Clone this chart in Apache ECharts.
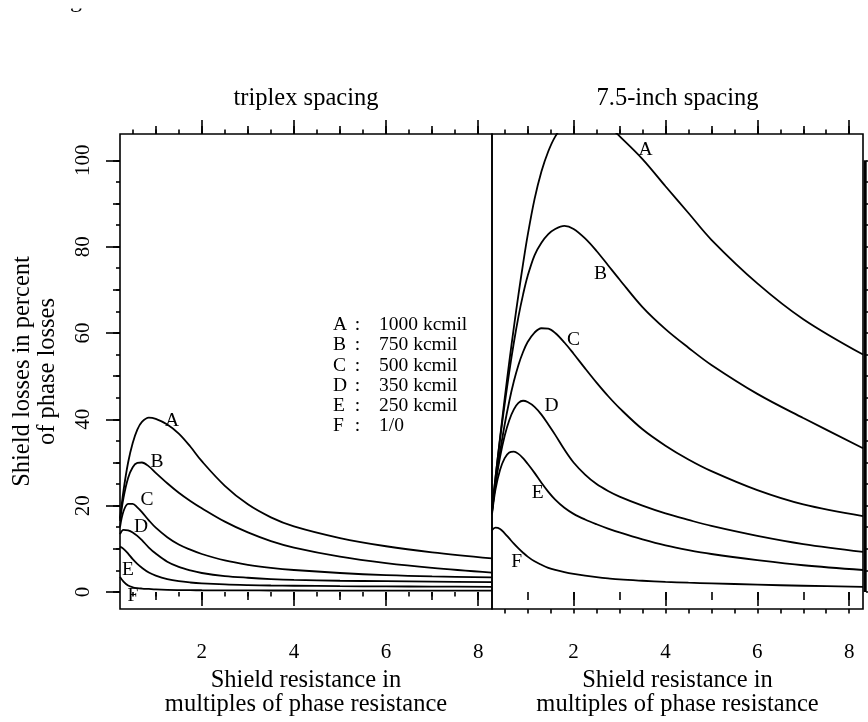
<!DOCTYPE html>
<html>
<head>
<meta charset="utf-8">
<script src="https://cdn.jsdelivr.net/npm/echarts@6/dist/echarts.min.js"></script>
<style>
  html, body { margin: 0; padding: 0; background: #fff; }
  #chart { width: 868px; height: 722px; }
</style>
</head>
<body>
<div id="chart"></div>
<script>
const FONT = '"Liberation Serif", "Times New Roman", Times, serif';

// Conductor sizes keyed by curve letter
const curveKeys = ['A', 'B', 'C', 'D', 'E', 'F'];
const sizeNames = ['1000 kcmil', '750 kcmil', '500 kcmil', '350 kcmil', '250 kcmil', '1/0'];

// Panel titles
const panelTitles = ['triplex spacing', '7.5-inch spacing'];

// Tick values
const xTickLabels = [2, 4, 6, 8];
const xTicksInt = [1, 2, 3, 4, 5, 6, 7, 8];
const xTicksHalf = [0.5, 1, 1.5, 2, 2.5, 3, 3.5, 4, 4.5, 5, 5.5, 6, 6.5, 7, 7.5, 8];
const yTickLabels = [0, 20, 40, 60, 80, 100];
const yTicks10 = [0, 10, 20, 30, 40, 50, 60, 70, 80, 90, 100];
const yTicks5 = [0, 5, 10, 15, 20, 25, 30, 35, 40, 45, 50, 55, 60, 65, 70, 75, 80, 85, 90, 95, 100];

// Triplex spacing: shield resistance (x) and shield losses in % of phase losses
const xTriplex = [0.224, 0.3, 0.4, 0.5, 0.6, 0.7, 0.85, 1.0, 1.25, 1.5, 1.75, 2.0, 2.5, 3.0, 3.5, 4.0, 5.0, 6.0, 7.0, 8.3];
const triplexA = [17.0, 23.5, 30.0, 34.5, 37.6, 39.4, 40.4, 40.1, 38.8, 36.7, 33.7, 30.3, 24.6, 20.3, 17.3, 15.2, 12.5, 10.6, 9.2, 7.8];
const triplexB = [16.5, 21.8, 26.4, 28.9, 29.9, 30.0, 29.1, 27.6, 25.2, 23.0, 21.1, 19.4, 16.3, 13.8, 11.8, 10.3, 8.2, 6.7, 5.6, 4.5];
const triplexC = [15.0, 18.7, 20.4, 20.4, 19.6, 18.5, 16.6, 14.9, 12.7, 11.0, 9.8, 8.8, 7.3, 6.3, 5.6, 5.1, 4.4, 3.9, 3.6, 3.4];
const triplexD = [13.4, 14.4, 14.3, 13.8, 13.0, 12.0, 10.3, 8.9, 7.0, 5.8, 5.0, 4.4, 3.7, 3.3, 3.0, 2.8, 2.6, 2.5, 2.4, 2.3];
const triplexE = [10.5, 10.0, 8.9, 7.6, 6.5, 5.6, 4.5, 3.8, 3.0, 2.5, 2.2, 2.0, 1.75, 1.6, 1.5, 1.45, 1.35, 1.3, 1.25, 1.2];
const triplexF = [3.5, 2.4, 1.5, 1.1, 0.9, 0.8, 0.7, 0.6, 0.5, 0.45, 0.42, 0.4, 0.38, 0.36, 0.35, 0.34, 0.32, 0.31, 0.3, 0.3];

// 7.5-inch spacing
const xSpaced = [0.224, 0.3, 0.4, 0.5, 0.6, 0.7, 0.8, 0.9, 1.0, 1.15, 1.3, 1.45, 1.6, 1.8, 2.0, 2.25, 2.5, 2.75, 3.0, 3.5, 4.0, 4.5, 5.0, 6.0, 7.0, 8.3];
const spacedA = [19.0, 26.5, 35.8, 44.8, 53.3, 61.3, 68.9, 76.0, 82.6, 91.0, 97.4, 102.1, 105.5, 108.3, 109.7, 110.2, 109.6, 108.0, 105.6, 100.3, 94.0, 87.8, 81.6, 71.5, 63.2, 55.0];
const spacedB = [19.0, 26.5, 35.5, 43.5, 51.0, 57.8, 63.8, 68.9, 73.2, 78.0, 80.9, 82.9, 84.1, 84.8, 84.1, 81.9, 79.0, 75.7, 72.4, 66.0, 60.9, 56.6, 52.6, 45.9, 40.3, 33.3];
const spacedC = [18.5, 25.3, 32.5, 38.8, 44.2, 48.8, 52.6, 55.6, 57.9, 60.1, 61.1, 61.0, 60.0, 57.8, 55.2, 51.8, 48.5, 45.4, 42.6, 37.7, 33.9, 30.7, 28.0, 23.6, 20.3, 17.6];
const spacedD = [18.5, 25.0, 31.3, 36.2, 39.8, 42.3, 43.8, 44.3, 44.0, 42.9, 41.1, 38.8, 36.4, 33.0, 30.0, 27.2, 25.0, 23.4, 22.1, 20.0, 18.2, 16.7, 15.3, 13.0, 11.1, 9.3];
const spacedE = [18.0, 23.8, 28.3, 31.0, 32.3, 32.5, 32.0, 31.0, 29.7, 27.6, 25.3, 23.2, 21.4, 19.5, 18.1, 16.8, 15.7, 14.7, 13.8, 12.2, 10.8, 9.7, 8.8, 7.4, 6.2, 5.1];
const spacedF = [14.3, 14.9, 14.6, 13.6, 12.4, 11.2, 10.1, 9.1, 8.2, 7.1, 6.3, 5.6, 5.1, 4.6, 4.2, 3.8, 3.45, 3.15, 2.9, 2.6, 2.35, 2.15, 2.0, 1.7, 1.45, 1.2];

// Where the curve letters sit, in axis units
const letterSpotsTriplex = [[1.354, 39.6], [1.028, 30.1], [0.811, 21.3], [0.68, 15.1], [0.398, 5.1], [0.507, -0.9]];
const letterSpotsSpaced = [[3.565, 102.4], [2.587, 73.6], [2.0, 58.3], [1.522, 43.1], [1.217, 22.9], [0.761, 6.9]];

// Axis ranges shared by both panels
const X_MIN = 0.224, X_MAX = 8.3;
const Y_MIN = -3.94, Y_MAX = 106.1;

const TICK_W = 1.6;
const LABEL_SIZE = 21;
const TITLE_SIZE = 24.5;
const KEY_SIZE = 19.5;

function xAxisDef(grid, pos, ticks, len, extra) {
  return Object.assign({
    type: 'value', gridIndex: grid, position: pos, min: X_MIN, max: X_MAX,
    axisLine: { show: false }, splitLine: { show: false },
    axisTick: { show: true, inside: false, length: len, customValues: ticks,
                lineStyle: { color: '#000', width: TICK_W } },
    axisLabel: { show: false }
  }, extra || {});
}

function yAxisDef(grid, pos, ticks, len, extra) {
  return Object.assign({
    type: 'value', gridIndex: grid, position: pos, min: Y_MIN, max: Y_MAX,
    axisLine: { show: false }, splitLine: { show: false },
    axisTick: { show: !!ticks, inside: false, length: len, customValues: ticks || [],
                lineStyle: { color: '#000', width: TICK_W } },
    axisLabel: { show: false }
  }, extra || {});
}

const xName = 'Shield resistance in\nmultiples of phase resistance';
const nameStyle = { fontFamily: FONT, fontSize: TITLE_SIZE, lineHeight: 24.5, color: '#000' };

const xAxes = [];
[0, 1].forEach(g => {
  xAxes.push(xAxisDef(g, 'bottom', xTickLabels, 14, {
    name: xName, nameLocation: 'middle', nameGap: 45, nameTextStyle: nameStyle,
    axisLabel: { show: true, customValues: xTickLabels, margin: 33,
                 fontFamily: FONT, fontSize: LABEL_SIZE, color: '#000' }
  }));
  xAxes.push(xAxisDef(g, 'bottom', xTicksInt, 8));
  xAxes.push(xAxisDef(g, 'bottom', xTicksHalf, 4.5));
  xAxes.push(xAxisDef(g, 'top', xTickLabels, 14, {
    name: panelTitles[g], nameLocation: 'middle', nameGap: 23, nameTextStyle: nameStyle
  }));
  xAxes.push(xAxisDef(g, 'top', xTicksInt, 8));
  xAxes.push(xAxisDef(g, 'top', xTicksHalf, 4.5));
});

const yAxes = [
  yAxisDef(0, 'left', yTickLabels, 14, {
    name: 'Shield losses in percent\nof phase losses', nameLocation: 'middle', nameGap: 60.5,
    nameRotate: 90, nameTextStyle: nameStyle,
    axisLabel: { show: true, customValues: yTickLabels, rotate: 90, margin: 26,
                 fontFamily: FONT, fontSize: LABEL_SIZE, color: '#000' }
  }),
  yAxisDef(0, 'left', yTicks10, 7),
  yAxisDef(0, 'left', yTicks5, 4),
  yAxisDef(1, 'left', null, 0),
  yAxisDef(1, 'right', yTicks5, 4, { offset: 3 })
];

function curve(name, xs, ys, xi, yi) {
  return {
    type: 'line', name: name, xAxisIndex: xi, yAxisIndex: yi,
    data: xs.map((x, i) => [x, ys[i]]),
    showSymbol: false, symbol: 'none', smooth: 0.35,
    lineStyle: { color: '#000', width: 1.8 }, clip: true, silent: true
  };
}

function letters(spots, xi, yi) {
  return {
    type: 'scatter', xAxisIndex: xi, yAxisIndex: yi, symbolSize: 0, silent: true,
    itemStyle: { opacity: 1 },
    data: spots.map((p, i) => ({ value: p, name: curveKeys[i] })),
    label: { show: true, position: 'inside', formatter: '{b}', opacity: 1,
             fontFamily: FONT, fontSize: KEY_SIZE, color: '#000' }
  };
}

const triplexSets = [triplexA, triplexB, triplexC, triplexD, triplexE, triplexF];
const spacedSets = [spacedA, spacedB, spacedC, spacedD, spacedE, spacedF];

const series = [];
triplexSets.forEach((ys, i) => series.push(curve('triplex ' + curveKeys[i], xTriplex, ys, 0, 0)));
spacedSets.forEach((ys, i) => series.push(curve('7.5-inch ' + curveKeys[i], xSpaced, ys, 6, 3)));
series.push(letters(letterSpotsTriplex, 0, 0));
series.push(letters(letterSpotsSpaced, 6, 3));

const gridBase = { top: 134, height: 475, show: true, borderColor: '#000', borderWidth: 1.6,
                   backgroundColor: 'transparent', outerBoundsMode: 'none', containLabel: false };

const chart = echarts.init(document.getElementById('chart'), null, { renderer: 'canvas' });
chart.setOption({
  animation: false,
  backgroundColor: '#fff',
  grid: [
    Object.assign({ left: 120, width: 372 }, gridBase),
    Object.assign({ left: 492, width: 371 }, gridBase)
  ],
  xAxis: xAxes,
  yAxis: yAxes,
  series: series
});

// Key of conductor sizes, plus the right-hand axis bar over the 0-100 range
const graphics = [];
const keyTop = 325, keyStep = 20.2;
curveKeys.forEach((k, i) => {
  const y = keyTop + i * keyStep;
  const st = { fontFamily: FONT, fontSize: KEY_SIZE, fill: '#000', verticalAlign: 'middle' };
  graphics.push({ type: 'text', x: 333, y: y, style: Object.assign({ text: k, align: 'left' }, st) });
  graphics.push({ type: 'text', x: 357.5, y: y, style: Object.assign({ text: ':', align: 'center' }, st) });
  graphics.push({ type: 'text', x: 379, y: y, style: Object.assign({ text: sizeNames[i], align: 'left' }, st) });
});

const pBottom = chart.convertToPixel({ gridIndex: 1 }, [X_MAX, yTicks5[0]]);
const pTop = chart.convertToPixel({ gridIndex: 1 }, [X_MAX, yTicks5[yTicks5.length - 1]]);
graphics.push({
  type: 'line', shape: { x1: pBottom[0] + 2.2, y1: pBottom[1], x2: pTop[0] + 2.2, y2: pTop[1] },
  style: { stroke: '#000', lineWidth: 3 }
});

// Remnant of a line of text cut off at the top edge
graphics.push({ type: 'text', x: 76, y: 12.7,
  style: { text: 'g', fontFamily: FONT, fontSize: 24, lineHeight: 24, fill: '#000', align: 'center', verticalAlign: 'bottom' } });
graphics.push({ type: 'rect', zlevel: 1, shape: { x: 60, y: 0, width: 40, height: 8.5 }, style: { fill: '#fff' } });

chart.setOption({ graphic: graphics });
</script>
</body>
</html>
